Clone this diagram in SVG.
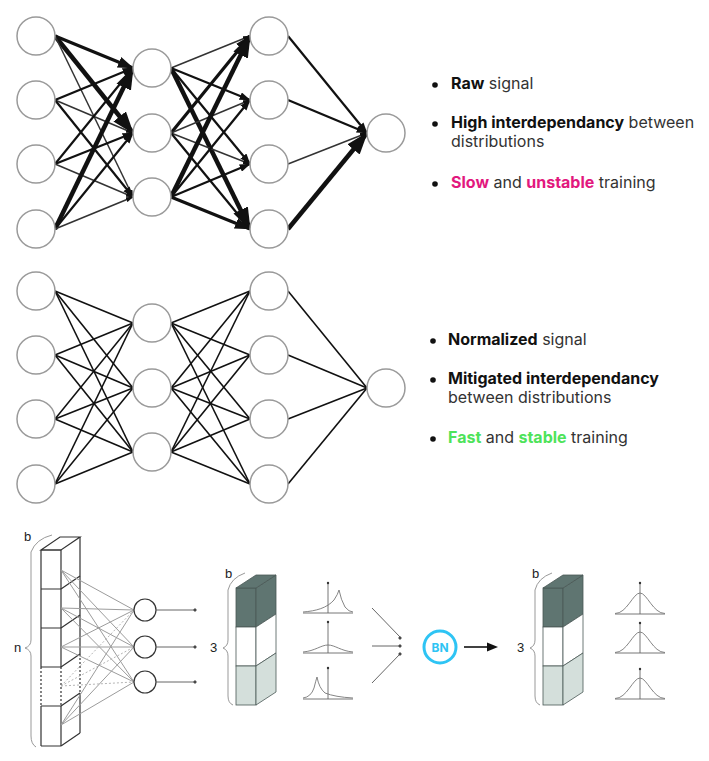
<svg xmlns="http://www.w3.org/2000/svg" width="709" height="761" viewBox="0 0 709 761">
<style>
.nn{fill:#fff;stroke:#9a9a9a;stroke-width:1.5}
.e{stroke:#111;fill:none}
.t{stroke-width:1.5;stroke:#333}
.m{stroke-width:2.2}
.k{stroke-width:3.2}
.v{stroke-width:4.5}
.ep{stroke:#111;stroke-width:1.6;fill:none}
.txt{font-family:Inter,"Noto Sans","Liberation Sans",sans-serif;font-size:16px;fill:#333}
.b{font-weight:700;fill:#111}
.pk{font-weight:700;fill:#e2187e}
.gr{font-weight:700;fill:#4ee35a}
.bx{stroke:#333;stroke-width:1.2;fill:none}
.dot{stroke-dasharray:2 2}
.gl{stroke:#9c9c9c;stroke-width:1;fill:none}
.neu{fill:#fff;stroke:#333;stroke-width:1.2}
.br{stroke:#999;stroke-width:1;fill:none}
.lbl{font-family:"Liberation Sans",Arial,sans-serif;font-size:13px;fill:#222}
.cell{stroke:#4a5856;stroke-width:0.8}
.dk{fill:#5f7571}
.wh{fill:#fff}
.lt{fill:#d4dfdb}
.ax{stroke:#666;stroke-width:0.9;fill:none}
.cv{stroke:#777;stroke-width:0.9;fill:none}
.thin{stroke:#555;stroke-width:0.9;fill:none}
</style>
<defs>
<marker id="ah" viewBox="0 0 9 6.4" refX="8.5" refY="3.2" markerWidth="5" markerHeight="3.6" orient="auto" markerUnits="strokeWidth">
<path d="M0,0 L9,3.2 L0,6.4 z" fill="#111"/>
</marker>
</defs>

<!-- Top network connectors -->
<g id="connectors-top">
<line class="e k" x1="55" y1="36" x2="133" y2="68" marker-end="url(#ah)"/>
<line class="e v" x1="55" y1="36" x2="133" y2="133" marker-end="url(#ah)"/>
<line class="e t" x1="55" y1="36" x2="133" y2="197" marker-end="url(#ah)"/>
<line class="e m" x1="55" y1="100" x2="133" y2="68" marker-end="url(#ah)"/>
<line class="e t" x1="55" y1="100" x2="133" y2="133" marker-end="url(#ah)"/>
<line class="e m" x1="55" y1="100" x2="133" y2="197" marker-end="url(#ah)"/>
<line class="e m" x1="55" y1="164" x2="133" y2="68" marker-end="url(#ah)"/>
<line class="e m" x1="55" y1="164" x2="133" y2="133" marker-end="url(#ah)"/>
<line class="e t" x1="55" y1="164" x2="133" y2="197" marker-end="url(#ah)"/>
<line class="e v" x1="55" y1="229" x2="133" y2="68" marker-end="url(#ah)"/>
<line class="e m" x1="55" y1="229" x2="133" y2="133" marker-end="url(#ah)"/>
<line class="e t" x1="55" y1="229" x2="133" y2="197" marker-end="url(#ah)"/>

<line class="e t" x1="171" y1="68" x2="250" y2="36" marker-end="url(#ah)"/>
<line class="e m" x1="171" y1="68" x2="250" y2="100" marker-end="url(#ah)"/>
<line class="e m" x1="171" y1="68" x2="250" y2="164" marker-end="url(#ah)"/>
<line class="e v" x1="171" y1="68" x2="250" y2="229" marker-end="url(#ah)"/>
<line class="e k" x1="171" y1="133" x2="250" y2="36" marker-end="url(#ah)"/>
<line class="e t" x1="171" y1="133" x2="250" y2="100" marker-end="url(#ah)"/>
<line class="e t" x1="171" y1="133" x2="250" y2="164" marker-end="url(#ah)"/>
<line class="e m" x1="171" y1="133" x2="250" y2="229" marker-end="url(#ah)"/>
<line class="e v" x1="171" y1="197" x2="250" y2="36" marker-end="url(#ah)"/>
<line class="e m" x1="171" y1="197" x2="250" y2="100" marker-end="url(#ah)"/>
<line class="e m" x1="171" y1="197" x2="250" y2="164" marker-end="url(#ah)"/>
<line class="e k" x1="171" y1="197" x2="250" y2="229" marker-end="url(#ah)"/>

<line class="e m" x1="288" y1="36" x2="367" y2="133" marker-end="url(#ah)"/>
<line class="e m" x1="288" y1="100" x2="367" y2="133" marker-end="url(#ah)"/>
<line class="e t" x1="288" y1="164" x2="367" y2="133" marker-end="url(#ah)"/>
<line class="e v" x1="288" y1="229" x2="367" y2="133" marker-end="url(#ah)"/>
</g>

<!-- Bottom network connectors -->
<g id="connectors-bottom" class="ep">
<line x1="55" y1="291" x2="133" y2="323"/><line x1="55" y1="291" x2="133" y2="388"/><line x1="55" y1="291" x2="133" y2="452"/>
<line x1="55" y1="355" x2="133" y2="323"/><line x1="55" y1="355" x2="133" y2="388"/><line x1="55" y1="355" x2="133" y2="452"/>
<line x1="55" y1="419" x2="133" y2="323"/><line x1="55" y1="419" x2="133" y2="388"/><line x1="55" y1="419" x2="133" y2="452"/>
<line x1="55" y1="484" x2="133" y2="323"/><line x1="55" y1="484" x2="133" y2="388"/><line x1="55" y1="484" x2="133" y2="452"/>
<line x1="171" y1="323" x2="250" y2="291"/><line x1="171" y1="323" x2="250" y2="355"/><line x1="171" y1="323" x2="250" y2="419"/><line x1="171" y1="323" x2="250" y2="484"/>
<line x1="171" y1="388" x2="250" y2="291"/><line x1="171" y1="388" x2="250" y2="355"/><line x1="171" y1="388" x2="250" y2="419"/><line x1="171" y1="388" x2="250" y2="484"/>
<line x1="171" y1="452" x2="250" y2="291"/><line x1="171" y1="452" x2="250" y2="355"/><line x1="171" y1="452" x2="250" y2="419"/><line x1="171" y1="452" x2="250" y2="484"/>
<line x1="288" y1="291" x2="367" y2="388"/><line x1="288" y1="355" x2="367" y2="388"/><line x1="288" y1="419" x2="367" y2="388"/><line x1="288" y1="484" x2="367" y2="388"/>
</g>

<!-- Top network nodes -->
<g id="top-l1-n0"><circle class="nn" cx="36" cy="36" r="19"/></g>
<g id="top-l1-n1"><circle class="nn" cx="36" cy="100" r="19"/></g>
<g id="top-l1-n2"><circle class="nn" cx="36" cy="164" r="19"/></g>
<g id="top-l1-n3"><circle class="nn" cx="36" cy="229" r="19"/></g>
<g id="top-l2-n0"><circle class="nn" cx="152" cy="68" r="19"/></g>
<g id="top-l2-n1"><circle class="nn" cx="152" cy="133" r="19"/></g>
<g id="top-l2-n2"><circle class="nn" cx="152" cy="197" r="19"/></g>
<g id="top-l3-n0"><circle class="nn" cx="269" cy="36" r="19"/></g>
<g id="top-l3-n1"><circle class="nn" cx="269" cy="100" r="19"/></g>
<g id="top-l3-n2"><circle class="nn" cx="269" cy="164" r="19"/></g>
<g id="top-l3-n3"><circle class="nn" cx="269" cy="229" r="19"/></g>
<g id="top-l4-n0"><circle class="nn" cx="386" cy="133" r="19"/></g>

<!-- Bottom network nodes -->
<g id="bot-l1-n0"><circle class="nn" cx="36" cy="291" r="19"/></g>
<g id="bot-l1-n1"><circle class="nn" cx="36" cy="355" r="19"/></g>
<g id="bot-l1-n2"><circle class="nn" cx="36" cy="419" r="19"/></g>
<g id="bot-l1-n3"><circle class="nn" cx="36" cy="484" r="19"/></g>
<g id="bot-l2-n0"><circle class="nn" cx="152" cy="323" r="19"/></g>
<g id="bot-l2-n1"><circle class="nn" cx="152" cy="388" r="19"/></g>
<g id="bot-l2-n2"><circle class="nn" cx="152" cy="452" r="19"/></g>
<g id="bot-l3-n0"><circle class="nn" cx="269" cy="291" r="19"/></g>
<g id="bot-l3-n1"><circle class="nn" cx="269" cy="355" r="19"/></g>
<g id="bot-l3-n2"><circle class="nn" cx="269" cy="419" r="19"/></g>
<g id="bot-l3-n3"><circle class="nn" cx="269" cy="484" r="19"/></g>
<g id="bot-l4-n0"><circle class="nn" cx="386" cy="388" r="19"/></g>

<!-- Top texts -->
<g id="text-top" class="txt">
<circle cx="435" cy="85" r="2.8" fill="#111"/>
<text x="451" y="89"><tspan class="b">Raw</tspan> signal</text>
<circle cx="435" cy="124" r="2.8" fill="#111"/>
<text x="451" y="128"><tspan class="b">High interdependancy</tspan> between</text>
<text x="451" y="147">distributions</text>
<circle cx="435" cy="184" r="2.8" fill="#111"/>
<text x="451" y="188"><tspan class="pk">Slow</tspan> and <tspan class="pk">unstable</tspan> training</text>
</g>

<g id="text-bottom" class="txt">
<circle cx="433" cy="341" r="2.8" fill="#111"/>
<text x="448" y="345"><tspan class="b">Normalized</tspan> signal</text>
<circle cx="433" cy="380" r="2.8" fill="#111"/>
<text x="448" y="384"><tspan class="b">Mitigated interdependancy</tspan></text>
<text x="448" y="403">between distributions</text>
<circle cx="433" cy="439" r="2.8" fill="#111"/>
<text x="448" y="443"><tspan class="gr">Fast</tspan> and <tspan class="gr">stable</tspan> training</text>
</g>

<!-- Lower section: input column -->
<g id="input-column">
<path class="bx" d="M41,550 L60,537 L80,537 L61,550 Z"/>
<path class="bx" d="M41,550 L61,550 M41,589 L61,589 M41,628 L61,628 M41,667 L61,667 M41,706 L61,706 M41,746 L61,746"/>
<path class="bx" d="M41,550 L41,667 M61,550 L61,667 M41,706 L41,746 M61,706 L61,746 M80,537 L80,654 M80,693 L80,733"/>
<path class="bx dot" d="M41,667 L41,706 M61,667 L61,706 M80,654 L80,693"/>
<path class="bx" d="M61,589 L80,576 M61,628 L80,615 M61,667 L80,654 M61,706 L80,693 M61,746 L80,733"/>
</g>
<g id="input-connectors" class="gl">
<line x1="61" y1="570" x2="134" y2="610"/><line x1="61" y1="570" x2="134" y2="647"/><line x1="61" y1="570" x2="134" y2="682"/>
<line x1="61" y1="608" x2="134" y2="610"/><line x1="61" y1="608" x2="134" y2="647"/><line x1="61" y1="608" x2="134" y2="682"/>
<line x1="61" y1="647" x2="134" y2="610"/><line x1="61" y1="647" x2="134" y2="647"/><line x1="61" y1="647" x2="134" y2="682"/>
<line x1="61" y1="725" x2="134" y2="610"/><line x1="61" y1="725" x2="134" y2="647"/><line x1="61" y1="725" x2="134" y2="682"/>
<g class="dot" stroke="#b5b5b5"><line x1="61" y1="686" x2="134" y2="610"/><line x1="61" y1="686" x2="134" y2="647"/><line x1="61" y1="686" x2="134" y2="682"/></g>
</g>
<g id="brace-n">
<path class="br" d="M52,535 Q36,539 31,552 L31,640 Q31,646 25,648 Q31,650 31,656 L31,736 Q31,744 36,747"/>
<text class="lbl" x="24" y="541">b</text>
<text class="lbl" x="14" y="652">n</text>
</g>
<g id="neuron-0"><circle class="neu" cx="145" cy="610" r="11"/></g>
<g id="neuron-1"><circle class="neu" cx="145" cy="647" r="11"/></g>
<g id="neuron-2"><circle class="neu" cx="145" cy="682" r="11"/></g>
<g id="neuron-outputs" class="thin">
<line x1="156" y1="610" x2="194" y2="610"/><line x1="156" y1="647" x2="194" y2="647"/><line x1="156" y1="682" x2="194" y2="682"/>
<circle cx="195" cy="610" r="1.2" fill="#333"/><circle cx="195" cy="647" r="1.2" fill="#333"/><circle cx="195" cy="682" r="1.2" fill="#333"/>
</g>

<!-- Middle stacked box -->
<g id="box-before">
<rect class="cell dk" x="236" y="588" width="20" height="39"/>
<path class="cell dk" d="M256,588 L276,575 L276,614 L256,627 Z"/>
<path class="cell dk" d="M236,588 L256,575 L276,575 L256,588 Z"/>
<rect class="cell wh" x="236" y="627" width="20" height="39"/>
<path class="cell wh" d="M256,627 L276,614 L276,653 L256,666 Z"/>
<rect class="cell lt" x="236" y="666" width="20" height="39"/>
<path class="cell lt" d="M256,666 L276,653 L276,692 L256,705 Z"/>
</g>
<g id="brace-before">
<path class="br" d="M245,573 Q231,578 228,590 L228,640 Q228,646 223,648 Q228,650 228,656 L228,696 Q228,703 233,705"/>
<text class="lbl" x="225" y="578">b</text>
<text class="lbl" x="210" y="652">3</text>
</g>
<g id="dist-before">
<line class="ax" x1="303" y1="613" x2="353" y2="613"/><line class="ax" x1="328" y1="613" x2="328" y2="583"/><circle cx="328" cy="583" r="1.2" fill="#333"/>
<path class="cv" d="M303,612 C316,611 327,608 334,600 Q338,594 339,590 Q341,600 345,607 Q349,612 353,612"/>
<line class="ax" x1="303" y1="653" x2="353" y2="653"/><line class="ax" x1="328" y1="653" x2="328" y2="622"/><circle cx="328" cy="622" r="1.2" fill="#333"/>
<path class="cv" d="M303,652 C315,651 321,645 328,645 C335,645 341,651 353,652"/>
<line class="ax" x1="303" y1="699" x2="353" y2="699"/><line class="ax" x1="328" y1="699" x2="328" y2="668"/><circle cx="328" cy="668" r="1.2" fill="#333"/>
<path class="cv" d="M303,698 Q311,697 314,688 Q316,680 317,677 Q319,688 325,693 Q335,697 353,698"/>
</g>
<g id="bn-inputs" class="thin">
<line x1="372" y1="608" x2="400" y2="637"/><line x1="372" y1="646" x2="400" y2="646"/><line x1="372" y1="683" x2="400" y2="654"/>
<circle cx="400" cy="638" r="1.2" fill="#333"/><circle cx="400" cy="646" r="1.2" fill="#333"/><circle cx="400" cy="654" r="1.2" fill="#333"/>
</g>
<g id="bn-node">
<circle cx="440" cy="647" r="16" fill="#fff" stroke="#2ec4f4" stroke-width="3"/>
<text x="440" y="651.5" text-anchor="middle" font-family="Inter,'Liberation Sans',sans-serif" font-size="12" font-weight="700" fill="#2ec4f4">BN</text>
</g>
<g id="bn-arrow">
<line x1="464" y1="647" x2="490" y2="647" stroke="#111" stroke-width="1.6"/>
<path d="M487,642.5 L498,647 L487,651.5 Z" fill="#111"/>
</g>

<!-- Right stacked box -->
<g id="box-after">
<rect class="cell dk" x="543" y="588" width="20" height="39"/>
<path class="cell dk" d="M563,588 L583,575 L583,614 L563,627 Z"/>
<path class="cell dk" d="M543,588 L563,575 L583,575 L563,588 Z"/>
<rect class="cell wh" x="543" y="627" width="20" height="39"/>
<path class="cell wh" d="M563,627 L583,614 L583,653 L563,666 Z"/>
<rect class="cell lt" x="543" y="666" width="20" height="39"/>
<path class="cell lt" d="M563,666 L583,653 L583,692 L563,705 Z"/>
</g>
<g id="brace-after">
<path class="br" d="M552,573 Q538,578 535,590 L535,640 Q535,646 530,648 Q535,650 535,656 L535,696 Q535,703 540,705"/>
<text class="lbl" x="532" y="578">b</text>
<text class="lbl" x="517" y="652">3</text>
</g>
<g id="dist-after">
<line class="ax" x1="615" y1="614" x2="665" y2="614"/><line class="ax" x1="640" y1="614" x2="640" y2="583"/><circle cx="640" cy="583" r="1.2" fill="#333"/>
<path class="cv" d="M615,613.5 C627,613.5 633,593 640,593 C647,593 653,613.5 665,613.5"/>
<line class="ax" x1="615" y1="653" x2="665" y2="653"/><line class="ax" x1="640" y1="653" x2="640" y2="623"/><circle cx="640" cy="623" r="1.2" fill="#333"/>
<path class="cv" d="M615,652.5 C627,652.5 633,632 640,632 C647,632 653,652.5 665,652.5"/>
<line class="ax" x1="615" y1="699" x2="665" y2="699"/><line class="ax" x1="640" y1="699" x2="640" y2="669"/><circle cx="640" cy="669" r="1.2" fill="#333"/>
<path class="cv" d="M615,698.5 C627,698.5 633,678 640,678 C647,678 653,698.5 665,698.5"/>
</g>
</svg>
